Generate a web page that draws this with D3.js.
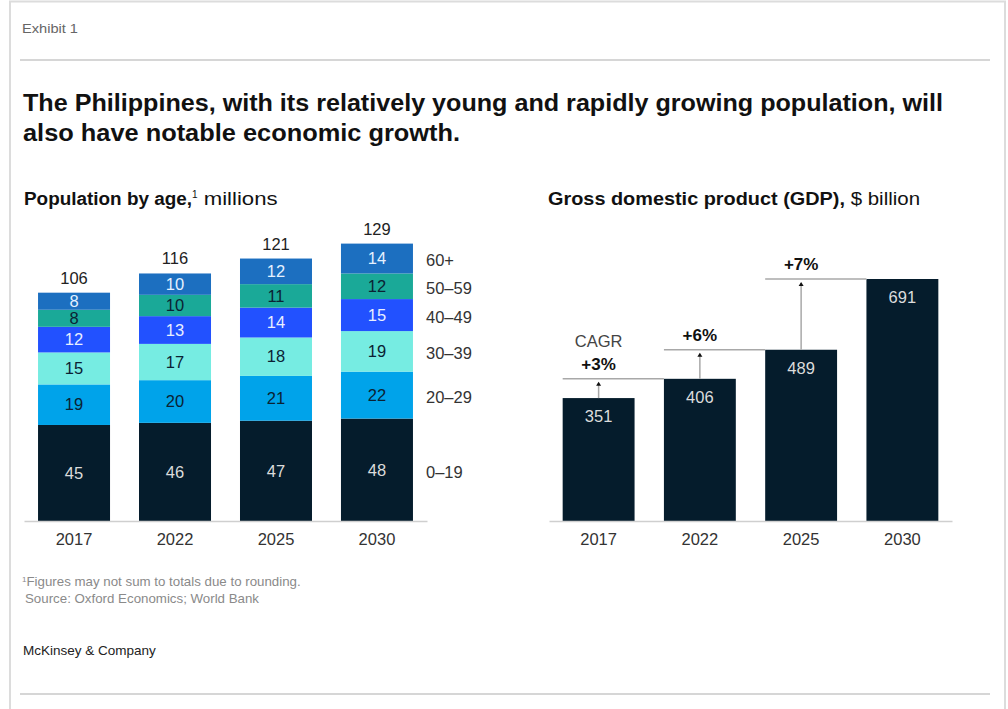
<!DOCTYPE html>
<html>
<head>
<meta charset="utf-8">
<script src="https://cdn.jsdelivr.net/npm/d3@7"></script>
<style>
  body { margin: 0; background: #fff; }
  svg { display: block; font-family: "Liberation Sans", Arial, sans-serif; }
</style>
</head>
<body>
<div id="chart-container"></div>
<script>
// chart data
const years = ["2017", "2022", "2025", "2030"];
const ageGroups = ["0–19", "20–29", "30–39", "40–49", "50–59", "60+"];
const age0to19 = [45, 46, 47, 48];
const age20to29 = [19, 20, 21, 22];
const age30to39 = [15, 17, 18, 19];
const age40to49 = [12, 13, 14, 15];
const age50to59 = [8, 10, 11, 12];
const age60plus = [8, 10, 12, 14];
const popTotals = [106, 116, 121, 129];
const gdpValues = [351, 406, 489, 691];
const cagrLabels = ["+3%", "+6%", "+7%"];

// colors
const ageColors = ["#051c2c", "#00a3ea", "#76ece2", "#2251ff", "#1aa998", "#1c6fc0"];
const ageText = ["#dcdcdc", "#0b2233", "#0b2233", "#e8eeff", "#0b2233", "#e4f1ff"];

const W = 1008, H = 709;
const baseY = 521;
const numSize = "16.5px";

const svg = d3.select("#chart-container")
  .append("svg")
  .attr("width", W)
  .attr("height", H);

// frame and rules
svg.append("rect").attr("x", 10).attr("y", 1.5).attr("width", 995).attr("height", 720)
  .attr("fill", "none").attr("stroke", "#dcdcdc").attr("stroke-width", 2);
svg.append("line").attr("x1", 20).attr("x2", 990).attr("y1", 60).attr("y2", 60)
  .attr("stroke", "#c8c8c8").attr("stroke-width", 1.5);
svg.append("line").attr("x1", 20).attr("x2", 990).attr("y1", 694).attr("y2", 694)
  .attr("stroke", "#c8c8c8").attr("stroke-width", 1.5);

svg.append("text").attr("x", 22).attr("y", 33)
  .attr("textLength", 56).attr("lengthAdjust", "spacingAndGlyphs")
  .style("font-size", "13px").style("fill", "#666").text("Exhibit 1");

// title
const titleLines = [
  "The Philippines, with its relatively young and rapidly growing population, will",
  "also have notable economic growth."
];
svg.append("text").attr("x", 23).attr("y", 111)
  .attr("textLength", 920).attr("lengthAdjust", "spacingAndGlyphs")
  .style("font-size", "23px").style("font-weight", "bold").style("fill", "#111")
  .text(titleLines[0]);
svg.append("text").attr("x", 23).attr("y", 141)
  .attr("textLength", 437).attr("lengthAdjust", "spacingAndGlyphs")
  .style("font-size", "23px").style("font-weight", "bold").style("fill", "#111")
  .text(titleLines[1]);

// subtitles
const sub1 = svg.append("text").attr("x", 24).attr("y", 205)
  .style("font-size", "18px").style("fill", "#111");
sub1.append("tspan").attr("textLength", 168).attr("lengthAdjust", "spacingAndGlyphs")
  .style("font-weight", "bold").text("Population by age,");
sub1.append("tspan").attr("dy", -7).style("font-size", "10px").text("1");
sub1.append("tspan").attr("dy", 7).attr("textLength", 80).attr("lengthAdjust", "spacingAndGlyphs")
  .text(" millions");

const sub2 = svg.append("text").attr("x", 548).attr("y", 205)
  .style("font-size", "18px").style("fill", "#111");
sub2.append("tspan").attr("textLength", 297).attr("lengthAdjust", "spacingAndGlyphs")
  .style("font-weight", "bold").text("Gross domestic product (GDP),");
sub2.append("tspan").attr("textLength", 75).attr("lengthAdjust", "spacingAndGlyphs")
  .text(" $ billion");

// ---------- left chart: stacked population ----------
const xPop = d3.scaleBand().domain(years).range([24, 427])
  .paddingInner(0.287).paddingOuter(0.139);
const yPop = d3.scaleLinear().domain([0, 130]).range([baseY, 243.6]);

const popTable = years.map((yr, i) => ({
  year: yr,
  "0–19": age0to19[i], "20–29": age20to29[i], "30–39": age30to39[i],
  "40–49": age40to49[i], "50–59": age50to59[i], "60+": age60plus[i]
}));
const stacked = d3.stack().keys(ageGroups)(popTable);

const layers = svg.append("g").selectAll("g")
  .data(stacked)
  .join("g")
  .attr("fill", (d, i) => ageColors[i]);

layers.selectAll("rect")
  .data(d => d)
  .join("rect")
  .attr("x", d => xPop(d.data.year))
  .attr("width", xPop.bandwidth())
  .attr("y", d => yPop(d[1]))
  .attr("height", d => yPop(d[0]) - yPop(d[1]));

stacked.forEach((layer, li) => {
  svg.append("g").selectAll("text")
    .data(layer)
    .join("text")
    .attr("x", d => xPop(d.data.year) + xPop.bandwidth() / 2)
    .attr("y", d => (yPop(d[0]) + yPop(d[1])) / 2)
    .attr("dy", "0.35em")
    .attr("text-anchor", "middle")
    .style("font-size", numSize)
    .style("fill", ageText[li])
    .text(d => d[1] - d[0]);
});

// totals above bars
svg.append("g").selectAll("text")
  .data(years)
  .join("text")
  .attr("x", d => xPop(d) + xPop.bandwidth() / 2)
  .attr("y", (d, i) => yPop(stacked[stacked.length - 1][i][1]) - 9)
  .attr("text-anchor", "middle")
  .style("font-size", numSize).style("fill", "#222")
  .text((d, i) => popTotals[i]);

// legend labels aligned to last bar
const last = years.length - 1;
svg.append("g").selectAll("text")
  .data(stacked)
  .join("text")
  .attr("x", 426)
  .attr("y", d => (yPop(d[last][0]) + yPop(d[last][1])) / 2 + 2)
  .attr("dy", "0.35em")
  .style("font-size", numSize).style("fill", "#333")
  .text((d, i) => ageGroups[i]);

// x axis
const axPop = svg.append("g").attr("transform", `translate(0,${baseY})`)
  .call(d3.axisBottom(xPop).tickSize(0).tickPadding(12));
axPop.select(".domain").attr("stroke", "#cfcfcf").attr("stroke-width", 1.5);
axPop.selectAll("text").style("font-size", numSize).style("fill", "#333")
  .style("font-family", "'Liberation Sans', Arial, sans-serif");

// ---------- right chart: GDP ----------
const xGdp = d3.scaleBand().domain(years).range([549, 952])
  .paddingInner(0.29).paddingOuter(0.135);
const yGdp = d3.scaleLinear().domain([0, 691]).range([baseY, 279]);

svg.append("g").selectAll("rect")
  .data(gdpValues)
  .join("rect")
  .attr("x", (d, i) => xGdp(years[i]))
  .attr("width", xGdp.bandwidth())
  .attr("y", d => yGdp(d))
  .attr("height", d => baseY - yGdp(d))
  .attr("fill", "#051c2c");

svg.append("g").selectAll("text")
  .data(gdpValues)
  .join("text")
  .attr("x", (d, i) => xGdp(years[i]) + xGdp.bandwidth() / 2)
  .attr("y", d => yGdp(d) + 18)
  .attr("dy", "0.35em")
  .attr("text-anchor", "middle")
  .style("font-size", numSize).style("fill", "#dcdcdc")
  .text(d => d);

// CAGR annotations
const ann = svg.append("g");
cagrLabels.forEach((lab, i) => {
  const cx = xGdp(years[i]) + xGdp.bandwidth() / 2;
  const yFrom = yGdp(gdpValues[i]);
  const yTo = yGdp(gdpValues[i + 1]);
  ann.append("line")
    .attr("x1", xGdp(years[i])).attr("x2", xGdp(years[i + 1]))
    .attr("y1", yTo).attr("y2", yTo)
    .attr("stroke", "#a8a8a8").attr("stroke-width", 1.5);
  ann.append("line")
    .attr("x1", cx).attr("x2", cx)
    .attr("y1", yFrom).attr("y2", yTo + 4)
    .attr("stroke", "#a8a8a8").attr("stroke-width", 1.5);
  ann.append("path")
    .attr("d", `M${cx - 2.5},${yTo + 7}L${cx + 2.5},${yTo + 7}L${cx},${yTo + 3}Z`)
    .attr("fill", "#111");
  ann.append("text")
    .attr("x", cx).attr("y", yTo - 9)
    .attr("text-anchor", "middle")
    .style("font-size", "17px").style("font-weight", "bold").style("fill", "#111")
    .text(lab);
  if (i === 0) {
    ann.append("text")
      .attr("x", cx).attr("y", yTo - 32)
      .attr("text-anchor", "middle")
      .style("font-size", numSize).style("fill", "#444")
      .text("CAGR");
  }
});

const axGdp = svg.append("g").attr("transform", `translate(0,${baseY})`)
  .call(d3.axisBottom(xGdp).tickSize(0).tickPadding(12));
axGdp.select(".domain").attr("stroke", "#cfcfcf").attr("stroke-width", 1.5);
axGdp.selectAll("text").style("font-size", numSize).style("fill", "#333")
  .style("font-family", "'Liberation Sans', Arial, sans-serif");

// footnotes
const fn = svg.append("text").attr("x", 22).attr("y", 586)
  .style("font-size", "13.3px").style("fill", "#8a8a8a");
fn.append("tspan").attr("dy", -4).style("font-size", "8px").text("1");
fn.append("tspan").attr("dy", 4).text("Figures may not sum to totals due to rounding.");
svg.append("text").attr("x", 25).attr("y", 603)
  .style("font-size", "13.3px").style("fill", "#8a8a8a")
  .text("Source: Oxford Economics; World Bank");

svg.append("text").attr("x", 23).attr("y", 655)
  .style("font-size", "13.5px").style("fill", "#222")
  .text("McKinsey & Company");
</script>
</body>
</html>
